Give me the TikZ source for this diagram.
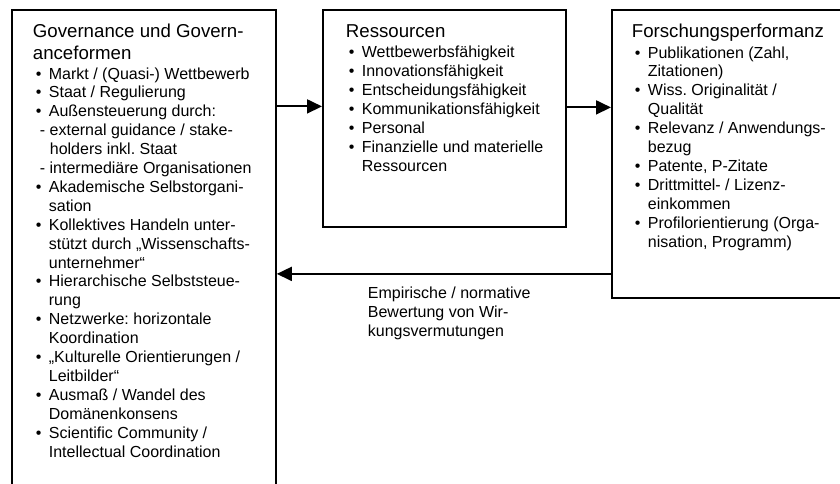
\documentclass[tikz,border=0pt]{standalone}
\usepackage{fontspec}
\setmainfont{Liberation Sans}
\usepackage{tikz}
\usetikzlibrary{positioning,arrows.meta}
\frenchspacing
\newcommand{\Pkt}{\makebox[16pt][l]{\hspace{3pt}\textbullet}}
\newcommand{\Wtr}{\hspace*{16pt}}

\begin{document}
\begin{tikzpicture}[kasten/.style={draw,line width=1.8pt,anchor=north west,inner sep=0pt},
                    titel/.style={anchor=base west,align=left,inner sep=0pt,font=\fontsize{18.67}{21.5}\selectfont},
                    liste/.style={anchor=base west,align=left,inner sep=0pt,font=\fontsize{16}{18.9}\selectfont},
                    >={Triangle[length=15pt,width=14pt]},line width=1.8pt]
  \useasboundingbox (0,0) rectangle (840pt,-484pt);
  \clip (0,0) rectangle (840pt,-484pt);
  % die drei Kaesten
  \node[kasten,minimum width=264pt,minimum height=500pt] (gov) at (11pt,-9pt) {};
  \node[kasten,minimum width=243pt,minimum height=217pt] (res) at (322pt,-9pt) {};
  \node[kasten,minimum width=260pt,minimum height=288pt] (perf) at (611pt,-9pt) {};
  % Inhalte (base west = Grundlinie der letzten Zeile)
  \node[titel] (govtitel) at (32pt,-59.5pt) {Governance und Govern-\\anceformen};
  \node[liste] (govliste) at (32pt,-457pt) {\Pkt Markt / (Quasi-) Wettbewerb\\
    \Pkt Staat / Regulierung\\
    \Pkt Außensteuerung durch:\\
    \hspace*{7pt}- external guidance / stake-\\
    \hspace*{17pt}holders inkl. Staat\\
    \hspace*{7pt}- intermediäre Organisationen\\
    \Pkt Akademische Selbstorgani-\\
    \Wtr sation\\
    \Pkt Kollektives Handeln unter-\\
    \Wtr stützt durch „Wissenschafts-\\
    \Wtr unternehmer“\\
    \Pkt Hierarchische Selbststeue-\\
    \Wtr rung\\
    \Pkt Netzwerke: horizontale\\
    \Wtr Koordination\\
    \Pkt „Kulturelle Orientierungen /\\
    \Wtr Leitbilder“\\
    \Pkt Ausmaß / Wandel des\\
    \Wtr Domänenkonsens\\
    \Pkt Scientific Community /\\
    \Wtr Intellectual Coordination};
  \node[titel] (restitel) at (345pt,-38pt) {Ressourcen};
  \node[liste] (resliste) at (345pt,-171pt) {\Pkt Wettbewerbsfähigkeit\\
    \Pkt Innovationsfähigkeit\\
    \Pkt Entscheidungsfähigkeit\\
    \Pkt Kommunikationsfähigkeit\\
    \Pkt Personal\\
    \Pkt Finanzielle und materielle\\
    \Wtr Ressourcen};
  \node[titel] (perftitel) at (631pt,-38pt) {Forschungsperformanz};
  \node[liste] (perfliste) at (631pt,-247pt) {\Pkt Publikationen (Zahl,\\
    \Wtr Zitationen)\\
    \Pkt Wiss. Originalität /\\
    \Wtr Qualität\\
    \Pkt Relevanz / Anwendungs-\\
    \Wtr bezug\\
    \Pkt Patente, P-Zitate\\
    \Pkt Drittmittel- / Lizenz-\\
    \Wtr einkommen\\
    \Pkt Profilorientierung (Orga-\\
    \Wtr nisation, Programm)};
  % Pfeile
  \coordinate (hin) at ([yshift=12pt]res.west);
  \coordinate (weiter) at ([yshift=11pt]res.east);
  \coordinate (zurueck) at ([yshift=-120pt]perf.west);
  \draw[->] (hin -| gov.east) -- (hin);
  \draw[->] (weiter) -- (weiter -| perf.west);
  \draw[->] (zurueck) -- (zurueck -| gov.east);
  \node[liste] (bewertung) at (367pt,-336pt) {Empirische / normative\\Bewertung von Wir-\\kungsvermutungen};
\end{tikzpicture}
\end{document}
